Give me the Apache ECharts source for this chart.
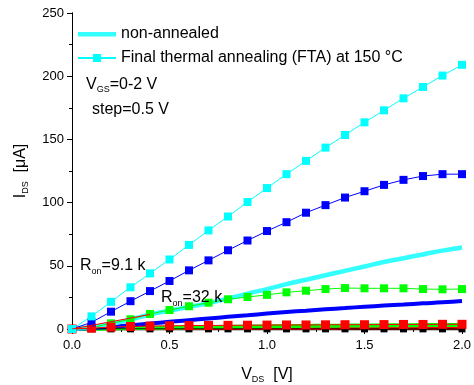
<!DOCTYPE html>
<html>
<head>
<meta charset="utf-8">
<script src="https://cdn.jsdelivr.net/npm/echarts@6/dist/echarts.min.js"></script>
<style>
  html, body { margin: 0; padding: 0; background: #fff; }
  #chart { width: 474px; height: 385px; }
</style>
</head>
<body>
<div id="chart"></div>
<script>
// drain voltage (V)
const vds = [0, 0.1, 0.2, 0.3, 0.4, 0.5, 0.6, 0.7, 0.8, 0.9, 1.0, 1.1, 1.2, 1.3, 1.4, 1.5, 1.6, 1.7, 1.8, 1.9, 2.0];

// after final thermal annealing (squares), I_DS in uA
const ftaVg2 = [0, 10, 21.5, 33, 44, 55, 66.5, 78, 89, 100.5, 111.5, 122.5, 133, 143.5, 153.5, 163.5, 173, 182.5, 191.5, 200.5, 209];
const ftaVg15 = [0, 5.3, 13.7, 22, 30, 38, 46.4, 54.3, 62.3, 70, 77.5, 84.5, 92, 98, 104, 109, 114, 118, 121, 122.5, 122.5];
const ftaVg1 = [0, 1, 4.5, 7.7, 11.9, 15, 18, 20.8, 23.5, 25.3, 27, 29, 30.3, 31.6, 32.4, 32.2, 32.2, 32.2, 31.6, 31.4, 31.6];
const ftaVg05 = [0, 0.7, 1.5, 2.0, 2.3, 2.5, 2.7, 2.8, 2.9, 3.0, 3.1, 3.2, 3.2, 3.3, 3.4, 3.4, 3.5, 3.6, 3.6, 3.7, 3.7];
const ftaVg0 = [0, 0.1, 0.1, 0.1, 0.1, 0.1, 0.1, 0.1, 0.1, 0.1, 0.1, 0.1, 0.1, 0.1, 0.1, 0.1, 0.1, 0.1, 0.1, 0.1, 0.1];

// non-annealed (thick lines)
const naVg2 = [0, 1.5, 4, 7.5, 11.5, 14.5, 17.5, 20.5, 24, 28, 31.5, 35.5, 39, 42.5, 46, 49.5, 53, 56, 59, 62, 64.5];
const naVg15 = [0, 0.8, 1.8, 3, 4.3, 5.7, 7, 8.3, 9.6, 10.9, 12.2, 13.4, 14.5, 15.6, 16.6, 17.6, 18.5, 19.4, 20.3, 21.1, 22.2];
const naVg1 = [0, 0.2, 0.4, 0.7, 0.9, 1.1, 1.3, 1.5, 1.7, 1.9, 2.1, 2.3, 2.4, 2.6, 2.7, 2.8, 2.9, 3.0, 3.1, 3.2, 3.2];
const naVg05 = [0, 0.1, 0.2, 0.3, 0.3, 0.4, 0.4, 0.5, 0.5, 0.5, 0.6, 0.6, 0.6, 0.6, 0.7, 0.7, 0.7, 0.7, 0.7, 0.7, 0.7];
const naVg0 = [0, 0, 0, 0, 0, 0, 0, 0, 0, 0, 0, 0, 0, 0, 0, 0, 0, 0, 0, 0, 0];

// R_on = 32 k tangent
const ronX = [0, 0.4];
const ronY = [0, 11.5];

const xTicks = ['0.0', '0.5', '1.0', '1.5', '2.0'];

const FONT = '"Liberation Sans", Arial, sans-serif';
const pair = (xs, ys) => xs.map((x, i) => [x, ys[i]]);

const chart = echarts.init(document.getElementById('chart'));

const naSeries = (name, data, color, width) => ({
  name, type: 'line', data: pair(vds, data), xAxisIndex: 0, yAxisIndex: 0,
  showSymbol: false, symbol: 'none', smooth: true, silent: true,
  lineStyle: { color, width }, itemStyle: { color }, z: 2,
});
const ftaSeries = (name, data, color, size) => ({
  name, type: 'line', data: pair(vds, data), xAxisIndex: 0, yAxisIndex: 0,
  symbol: 'rect', symbolSize: size || 8, silent: true,
  lineStyle: { color, width: 1 }, itemStyle: { color }, z: 3,
});

const axisCommon = {
  type: 'value', min: 0,
  axisLine: { show: true, lineStyle: { color: '#000', width: 1 } },
  splitLine: { show: false },
};
const subRich = (pad) => ({
  n: { fontFamily: FONT, fontSize: 16, color: '#000' },
  s: { fontFamily: FONT, fontSize: 9, color: '#000', padding: [pad, 0, 0, 0] },
});

chart.setOption({
  animation: false,
  backgroundColor: '#fff',
  grid: { left: 72, right: 12, top: 13, bottom: 56, outerBoundsMode: 'none', containLabel: false },
  legend: {
    orient: 'vertical', left: 72, top: 21, itemWidth: 38, itemHeight: 10, itemGap: 8,
    data: [
      { name: 'non-annealed', icon: 'path://M0,0h38v0.01h-38z M0,3h38v4.5h-38z M0,9.99h38v0.01h-38z' },
      { name: 'Final thermal annealing (FTA) at 150 °C' },
    ],
    textStyle: { fontFamily: FONT, fontSize: 16, color: '#000' },
    selectedMode: false,
  },
  xAxis: [
    {
      ...axisCommon, max: 2, interval: 0.5, position: 'bottom',
      axisTick: { show: true, inside: false, length: 5, lineStyle: { color: '#000' } },
      minorTick: { show: true, splitNumber: 2, length: 3, lineStyle: { color: '#000' } },
      axisLabel: { color: '#000', fontFamily: FONT, fontSize: 13, margin: 10,
        formatter: (v) => xTicks[Math.round(v / 0.5)] },
      name: '{n|V}{s|DS}{n|  [V]}', nameLocation: 'middle', nameGap: 36,
      nameTextStyle: { rich: subRich(10) },
    },
    {
      ...axisCommon, max: 2, interval: 0.5, position: 'top',
      axisTick: { show: true, inside: true, length: 5, lineStyle: { color: '#000' } },
      minorTick: { show: true, splitNumber: 2, length: 3, lineStyle: { color: '#000' } },
      axisLabel: { show: false },
    },
  ],
  yAxis: [
    {
      ...axisCommon, max: 250, interval: 50, position: 'left',
      axisTick: { show: true, inside: false, length: 5, lineStyle: { color: '#000' } },
      minorTick: { show: true, splitNumber: 2, length: 3, lineStyle: { color: '#000' } },
      axisLabel: { color: '#000', fontFamily: FONT, fontSize: 13, margin: 8 },
      name: '{n|I}{s|DS}{n|  [μA]}', nameLocation: 'middle', nameGap: 42,
      nameTextStyle: { rich: subRich(10) },
    },
    {
      ...axisCommon, max: 250, interval: 50, position: 'right',
      axisTick: { show: true, inside: true, length: 5, lineStyle: { color: '#000' } },
      minorTick: { show: true, splitNumber: 2, length: 3, lineStyle: { color: '#000' } },
      axisLabel: { show: false },
    },
  ],
  series: [
    naSeries('na0', naVg0, '#000000', 3),
    naSeries('na05', naVg05, '#ff0000', 3),
    naSeries('na1', naVg1, '#00ff00', 4),
    naSeries('na15', naVg15, '#0000ff', 4),
    naSeries('non-annealed', naVg2, '#33ffff', 4.5),
    ftaSeries('fta0', ftaVg0, '#000000', 7),
    ftaSeries('fta1', ftaVg1, '#00ff00'),
    ftaSeries('fta05', ftaVg05, '#ff0000', 9),
    ftaSeries('fta15', ftaVg15, '#0000ff'),
    ftaSeries('Final thermal annealing (FTA) at 150 °C', ftaVg2, '#00ffff'),
    {
      name: 'ron32', type: 'line', data: pair(ronX, ronY), symbol: 'none', silent: true,
      lineStyle: { color: '#ff0000', width: 1 }, z: 4,
    },
  ],
  graphic: [
    { type: 'text', z: 100, left: 86, top: 77, style: { rich: subRich(10), text: '{n|V}{s|GS}{n|=0-2 V}' } },
    { type: 'text', z: 100, left: 92, top: 102, style: { text: 'step=0.5 V', fontFamily: FONT, fontSize: 16, fill: '#000' } },
    { type: 'text', z: 100, left: 80, top: 258, style: { rich: subRich(12), text: '{n|R}{s|on}{n|=9.1 k}' } },
    { type: 'text', z: 100, left: 161, top: 290, style: { rich: subRich(12), text: '{n|R}{s|on}{n|=32 k}' } },
  ],
});
</script>
</body>
</html>
